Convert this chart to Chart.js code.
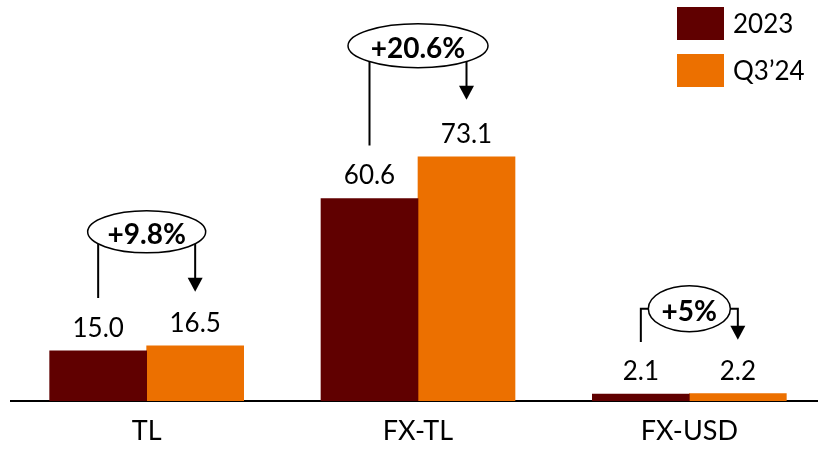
<!DOCTYPE html>
<html><head><meta charset="utf-8">
<style>html,body{margin:0;padding:0;background:#fff;overflow:hidden}
#wrap{width:818px;height:449px;overflow:hidden;position:relative}</style>
<script src="https://cdn.jsdelivr.net/npm/chart.js@4/dist/chart.umd.min.js"></script>
</head><body>
<div id="wrap"><canvas id="c" width="825" height="449" style="display:block;width:825px;height:449px"></canvas></div>
<script>
// ---- data ----
const categories = ['TL', 'FX-TL', 'FX-USD'];
const seriesNames = ['2023', 'Q3\u201924'];
const values2023 = [15.0, 60.6, 2.1];
const valuesQ324 = [16.5, 73.1, 2.2];
const growthLabels = ['+9.8%', '+20.6%', '+5%'];

// ---- styles ----
const FONT = 'Lato, "Open Sans", sans-serif';
const COLORS = ['#600000', '#EC7000'];
const annoStyle = [
  {rise: 114, rx: 59, ry: 21, type: 'drop', gapL: 53, gapR: 54},
  {rise: 111, rx: 70, ry: 22, type: 'drop', gapL: 53, gapR: 57},
  {rise: 85, rx: 41, ry: 23, type: 'elbow', gapL: 52, gapR: 54}
];

const overlay = {
  id: 'overlay',
  afterDatasetsDraw(chart) {
    const ctx = chart.ctx;
    ctx.save();
    // value labels
    ctx.fillStyle = '#000';
    ctx.textAlign = 'center';
    ctx.textBaseline = 'alphabetic';
    ctx.font = '26px ' + FONT;
    chart.data.datasets.forEach((ds, di) => {
      chart.getDatasetMeta(di).data.forEach((bar, i) => {
        ctx.fillText(ds.data[i].toFixed(1), bar.x, bar.y - 14);
      });
    });
    // growth annotations
    const m0 = chart.getDatasetMeta(0).data, m1 = chart.getDatasetMeta(1).data;
    growthLabels.forEach((lab, i) => {
      const st = annoStyle[i];
      const b0 = m0[i], b1 = m1[i];
      const cx = (b0.x + b1.x) / 2;
      const cy = Math.min(b0.y, b1.y) - st.rise;
      const tipY = b1.y - st.gapR;
      const ah = 14, aw = 7.5;
      ctx.strokeStyle = '#000';
      ctx.lineWidth = 2;
      ctx.beginPath();
      if (st.type === 'drop') {
        ctx.moveTo(b0.x, cy); ctx.lineTo(b0.x, b0.y - st.gapL);
        ctx.moveTo(b1.x, cy); ctx.lineTo(b1.x, tipY - ah + 1);
      } else {
        ctx.moveTo(cx - st.rx, cy); ctx.lineTo(b0.x, cy); ctx.lineTo(b0.x, b0.y - st.gapL);
        ctx.moveTo(cx + st.rx, cy); ctx.lineTo(b1.x, cy); ctx.lineTo(b1.x, tipY - ah + 1);
      }
      ctx.stroke();
      ctx.fillStyle = '#000';
      ctx.beginPath();
      ctx.moveTo(b1.x - aw, tipY - ah); ctx.lineTo(b1.x + aw, tipY - ah); ctx.lineTo(b1.x, tipY);
      ctx.closePath(); ctx.fill();
      ctx.beginPath();
      ctx.ellipse(cx, cy, st.rx, st.ry, 0, 0, Math.PI * 2);
      ctx.fillStyle = '#fff'; ctx.fill();
      ctx.lineWidth = 1.5; ctx.stroke();
      ctx.fillStyle = '#000';
      ctx.font = 'bold 28px ' + FONT;
      ctx.fillText(lab, cx, cy + 12);
    });
    // legend
    ctx.font = '26px ' + FONT;
    ctx.textAlign = 'left';
    chart.data.datasets.forEach((ds, di) => {
      const y = 7 + di * 47;
      ctx.fillStyle = ds.backgroundColor;
      ctx.fillRect(677, y, 47, 33);
      ctx.fillStyle = '#000';
      ctx.fillText(ds.label, 733, y + 16.5 + 9.5);
    });
    ctx.restore();
  }
};

new Chart(document.getElementById('c'), {
  type: 'bar',
  data: {
    labels: categories,
    datasets: [
      {label: seriesNames[0], data: values2023, backgroundColor: COLORS[0], barThickness: 97},
      {label: seriesNames[1], data: valuesQ324, backgroundColor: COLORS[1], barThickness: 97}
    ]
  },
  options: {
    responsive: false,
    animation: false,
    layout: {padding: {left: 11, right: 0, top: 0, bottom: 0}},
    plugins: {legend: {display: false}, tooltip: {enabled: false}},
    scales: {
      x: {
        grid: {display: false, drawTicks: false},
        border: {display: true, color: '#000', width: 2},
        ticks: {color: '#000', font: {family: FONT, size: 27}, padding: 14},
        afterFit(s) { s.height = 48; }
      },
      y: {display: false, min: 0, max: 120}
    }
  },
  plugins: [overlay]
});
</script>
</body></html>
